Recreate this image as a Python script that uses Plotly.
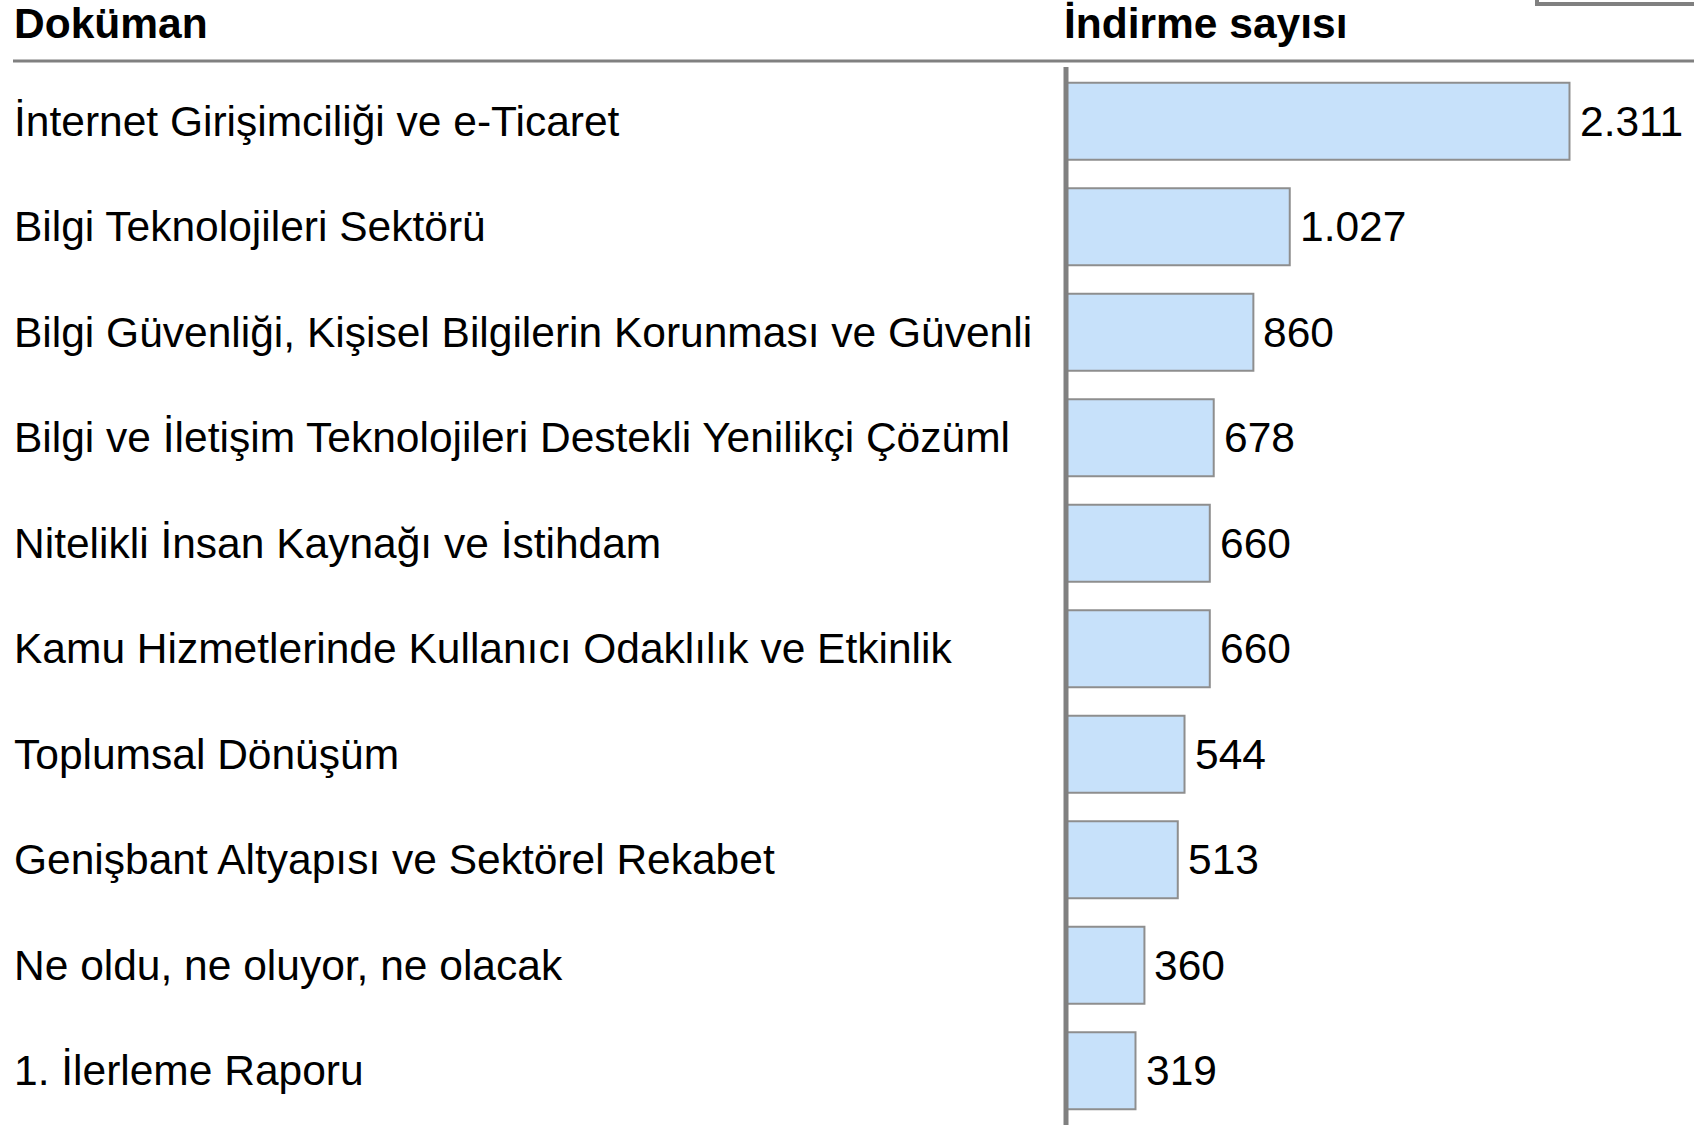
import plotly.graph_objects as go

documents = [
    "İnternet Girişimciliği ve e-Ticaret",
    "Bilgi Teknolojileri Sektörü",
    "Bilgi Güvenliği, Kişisel Bilgilerin Korunması ve Güvenli",
    "Bilgi ve İletişim Teknolojileri Destekli Yenilikçi Çözüml",
    "Nitelikli İnsan Kaynağı ve İstihdam",
    "Kamu Hizmetlerinde Kullanıcı Odaklılık ve Etkinlik",
    "Toplumsal Dönüşüm",
    "Genişbant Altyapısı ve Sektörel Rekabet",
    "Ne oldu, ne oluyor, ne olacak",
    "1. İlerleme Raporu",
]
downloads = [2311, 1027, 860, 678, 660, 660, 544, 513, 360, 319]
header_doc = "Doküman"
header_count = "İndirme sayısı"

W, H = 1694, 1125
FONT = "Liberation Sans, Arial, Helvetica, sans-serif"
FS = 42.5

x0_px = 1066
plot_top_px = 68.5
plot_bot_px = 1123.6
px_per_unit = 503.5 / 2311
xmax = (W - x0_px) / px_per_unit

def fmt(v):
    return f"{v:,}".replace(",", ".")

fig = go.Figure(go.Bar(
    x=downloads,
    y=list(range(len(documents))),
    orientation="h",
    marker=dict(color="#C7E1FA", line=dict(color="#8E8E8E", width=2)),
    width=0.73,
    hoverinfo="skip",
))

annotations = []
for i, (d, v) in enumerate(zip(documents, downloads)):
    annotations.append(dict(
        x=12 / W, xref="paper", y=i, yref="y", text=d, showarrow=False,
        xanchor="left", yanchor="middle",
        font=dict(family=FONT, size=FS, color="#000"),
    ))
    annotations.append(dict(
        x=v, xref="x", y=i, yref="y", text=fmt(v), showarrow=False,
        xanchor="left", yanchor="middle", xshift=8,
        font=dict(family=FONT, size=FS, color="#000"),
    ))
annotations.append(dict(
    x=12 / W, xref="paper", y=1 - 24 / H, yref="paper", text=f"<b>{header_doc}</b>",
    showarrow=False, xanchor="left", yanchor="middle",
    font=dict(family=FONT, size=FS, color="#000"),
))
annotations.append(dict(
    x=1062 / W, xref="paper", y=1 - 24 / H, yref="paper", text=f"<b>{header_count}</b>",
    showarrow=False, xanchor="left", yanchor="middle",
    font=dict(family=FONT, size=FS, color="#000"),
))

shapes = [
    dict(type="line", xref="paper", yref="paper", x0=13 / W, x1=1,
         y0=1 - 61 / H, y1=1 - 61 / H, line=dict(color="#808080", width=3)),
    dict(type="line", xref="paper", yref="paper", x0=x0_px / W, x1=x0_px / W,
         y0=1 - 67 / H, y1=0, line=dict(color="#808080", width=5)),
    dict(type="rect", xref="paper", yref="paper", x0=1537 / W, x1=1.02,
         y0=1 - 4 / H, y1=1.02, line=dict(color="#808080", width=4),
         fillcolor="rgba(0,0,0,0)"),
]

fig.update_layout(
    width=W, height=H,
    margin=dict(l=0, r=0, t=0, b=0),
    paper_bgcolor="white", plot_bgcolor="white",
    showlegend=False,
    xaxis=dict(domain=[x0_px / W, 1], range=[0, xmax], visible=False, fixedrange=True),
    yaxis=dict(domain=[1 - plot_bot_px / H, 1 - plot_top_px / H],
               range=[len(documents) - 0.5, -0.5], visible=False, fixedrange=True),
    annotations=annotations,
    shapes=shapes,
    font=dict(family=FONT),
)

fig.write_html(
    "out.html",
    config={"displayModeBar": False},
    post_script="document.body.style.margin='0';document.body.style.overflow='hidden';",
)
